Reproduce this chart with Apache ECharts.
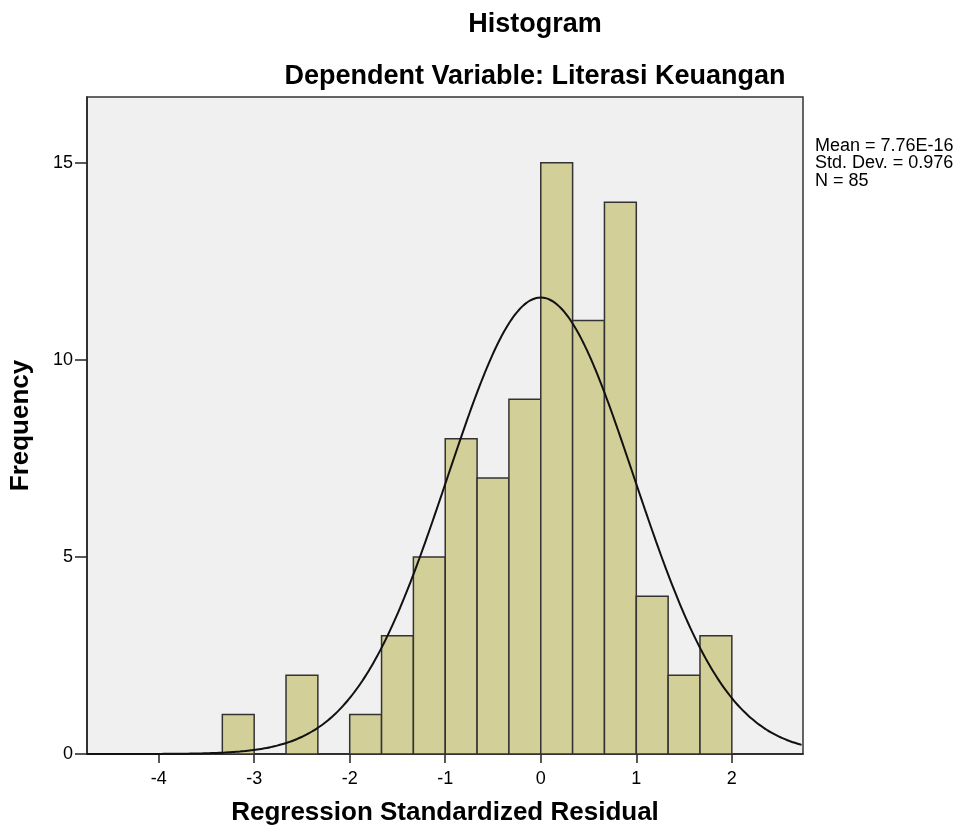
<!DOCTYPE html>
<html>
<head>
<meta charset="utf-8">
<script src="https://cdn.jsdelivr.net/npm/echarts@6/dist/echarts.min.js"></script>
<style>
  html, body { margin: 0; padding: 0; background: #fff; }
  #chart { width: 964px; height: 835px; }
</style>
</head>
<body>
<div id="chart"></div>
<script>
// histogram bins (left edge of each bin, width 1/3)
var binStarts = [-10/3, -8/3, -2, -5/3, -4/3, -1, -2/3, -1/3, 0, 1/3, 2/3, 1, 4/3, 5/3];
var counts = [1, 2, 1, 3, 5, 8, 7, 9, 15, 11, 14, 4, 2, 3];
var binWidth = 1/3;
var xTicks = [-4, -3, -2, -1, 0, 1, 2];
var yTicks = [0, 5, 10, 15];
// stats printed on the chart
var mean = 7.76e-16;
var stdDev = 0.976;
var n = 85;

var xMin = -4.75, xMax = 2.745;

// fitted normal curve scaled to counts
var curve = [];
for (var x = xMin; x <= xMax + 1e-9; x += 0.04) {
  var z = (x - mean) / stdDev;
  var y = n * binWidth * Math.exp(-0.5 * z * z) / (stdDev * Math.sqrt(2 * Math.PI));
  curve.push([x, y]);
}

var bars = binStarts.map(function (s, i) {
  return [s, s + binWidth, counts[i]];
});

var font = '"Liberation Sans", Arial, sans-serif';
var chart = echarts.init(document.getElementById('chart'));

chart.setOption({
  animation: false,
  title: [
    {
      text: 'Histogram', left: 530, top: 6, textAlign: 'center',
      textStyle: { fontFamily: font, fontSize: 27, fontWeight: 'bold', color: '#000' }
    },
    {
      text: 'Dependent Variable: Literasi Keuangan', left: 530, top: 58, textAlign: 'center',
      textStyle: { fontFamily: font, fontSize: 27, fontWeight: 'bold', color: '#000' }
    }
  ],
  graphic: [{
    type: 'text', left: 815, top: 137,
    style: {
      text: 'Mean = 7.76E-16\nStd. Dev. = 0.976\nN = 85',
      font: '18px ' + font, fill: '#000', lineHeight: 17.5
    }
  }],
  grid: {
    left: 86, right: 161, top: 97, bottom: 81,
    show: true, backgroundColor: '#f0f0f0', borderColor: '#333', borderWidth: 1.5
  },
  xAxis: {
    type: 'value', min: xMin, max: xMax,
    name: 'Regression Standardized Residual', nameLocation: 'middle', nameGap: 46,
    nameTextStyle: { fontFamily: font, fontSize: 26, fontWeight: 'bold', color: '#000' },
    axisLine: { show: true, onZero: false, lineStyle: { color: '#222', width: 1.5 } },
    axisTick: { show: true, length: 9, customValues: xTicks, lineStyle: { color: '#222', width: 1.5 } },
    axisLabel: { customValues: xTicks, fontFamily: font, fontSize: 18, color: '#000', margin: 16 },
    splitLine: { show: false }
  },
  yAxis: {
    type: 'value', min: 0, max: 16.67,
    name: 'Frequency', nameLocation: 'middle', nameGap: 53,
    nameTextStyle: { fontFamily: font, fontSize: 26, fontWeight: 'bold', color: '#000' },
    axisLine: { show: true, onZero: false, lineStyle: { color: '#222', width: 1.5 } },
    axisTick: { show: true, length: 12, customValues: yTicks, lineStyle: { color: '#222', width: 1.5 } },
    axisLabel: { customValues: yTicks, fontFamily: font, fontSize: 18, color: '#000', margin: 14 },
    splitLine: { show: false }
  },
  series: [
    {
      type: 'custom',
      data: bars,
      renderItem: function (params, api) {
        var p0 = api.coord([api.value(0), api.value(2)]);
        var p1 = api.coord([api.value(1), 0]);
        return {
          type: 'rect',
          shape: { x: p0[0], y: p0[1], width: p1[0] - p0[0], height: p1[1] - p0[1] },
          style: { fill: '#d3cf98', stroke: '#333', lineWidth: 1.5 }
        };
      },
      encode: { x: [0, 1], y: 2 },
      z: 2
    },
    {
      type: 'line',
      data: curve,
      showSymbol: false,
      smooth: true,
      lineStyle: { color: '#111', width: 2 },
      z: 3
    }
  ]
});
</script>
</body>
</html>
